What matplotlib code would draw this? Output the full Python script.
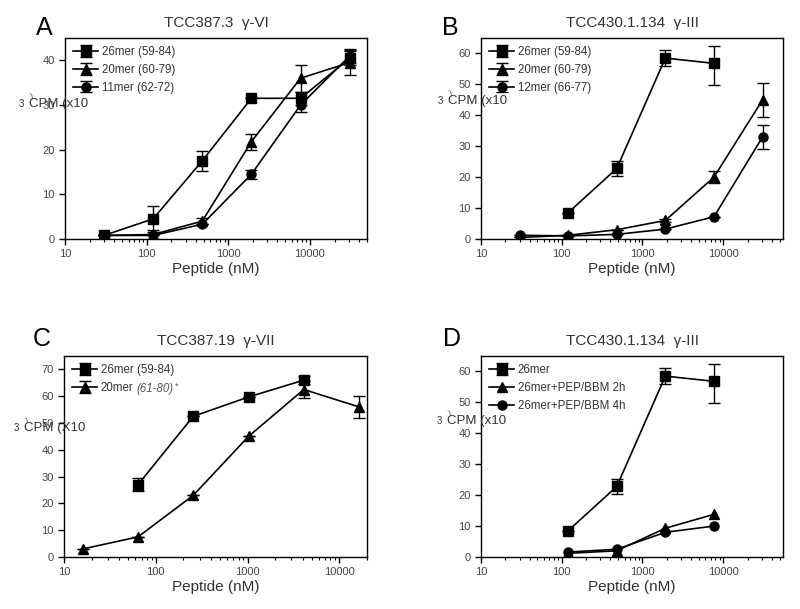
import numpy as np
import matplotlib.pyplot as plt

plt.rcParams['font.family'] = ['Liberation Sans', 'DejaVu Sans']

# panel A
xA = [30, 120, 480, 1920, 7680, 30720]
a26 = [0.8, 4.5, 17.5, 31.5, 31.5, 40.5]
a26_err = [0, 3.0, 2.2, 0, 1.5, 1.5]
a20 = [0.8, 1.0, 4.0, 21.8, 36.0, 39.5]
a20_err = [0, 1.0, 0.6, 1.8, 3.0, 2.8]
a11 = [0.8, 0.8, 3.3, 14.5, 30.0, 41.0]
a11_err = [0, 0, 0, 1.0, 1.5, 1.5]

# panel B
xB26 = [120, 480, 1920, 7680]
b26 = [8.5, 22.8, 58.5, 56.8]
b26_lo = [0, 2.3, 2.5, 7.0]
b26_hi = [0, 2.5, 2.5, 5.5]
xB = [30, 120, 480, 1920, 7680, 30720]
b20 = [0.5, 1.2, 3.0, 6.0, 20.0, 45.0]
b20_err = [0, 0, 0, 0.5, 2.0, 5.5]
b12 = [1.2, 1.0, 1.5, 3.2, 7.2, 33.0]
b12_err = [0, 0, 0, 0, 0, 4.0]

# panel C
xC26 = [64, 256, 1024, 4096]
c26 = [27.0, 52.5, 59.7, 66.0]
c26_err = [2.5, 0, 0, 1.5]
xC20 = [16, 64, 256, 1024, 4096, 16384]
c20 = [3.0, 7.5, 23.0, 45.0, 62.5, 56.0]
c20_err = [0, 0, 0, 0, 3.0, 4.0]

# panel D
xD = [120, 480, 1920, 7680]
d26 = [8.5, 22.8, 58.5, 56.8]
d26_lo = [0, 2.3, 2.5, 7.0]
d26_hi = [0, 2.5, 2.5, 5.5]
d2h = [1.2, 2.0, 9.3, 13.8]
d4h = [1.6, 2.5, 8.0, 10.0]

W, H = 800, 609
fig = plt.figure(figsize=(8, 6.09), dpi=100)


def make_ax(left, top, right, bottom):
    return fig.add_axes([left / W, 1 - bottom / H, (right - left) / W, (bottom - top) / H])


def style(ax, xmax, ymax, ystep):
    ax.set_xscale('log')
    ax.set_xlim(10, xmax)
    ax.set_ylim(0, ymax)
    ax.set_yticks(np.arange(0, ymax, ystep))
    ax.set_xticks([10, 100, 1000, 10000])
    ax.set_xticklabels(['10', '100', '1000', '10000'])
    ax.tick_params(direction='out', length=4, width=1, labelsize=8, labelcolor='#444444')
    ax.tick_params(which='minor', direction='out', length=2.5, width=0.8)
    for s in ax.spines.values():
        s.set_linewidth(1.0)
    ax.set_xlabel('Peptide (nM)', fontsize=11, color='#333333', labelpad=2)


def series(ax, x, y, m, label, err=None):
    ax.errorbar(x, y, yerr=err, color='black', marker=m, markersize=6.5, lw=1.2,
                capsize=4, elinewidth=1, capthick=1, label=label)


def ylab(x, y, txt):
    fig.text(x / W, 1 - y / H, '3', fontsize=7, color='#333333', va='center', zorder=10)
    fig.text((x + 10) / W, 1 - y / H, txt, fontsize=9.5, color='#333333', va='center', zorder=10)
    fig.text((x + 11) / W, 1 - (y - 8) / H, ')', fontsize=6, color='#555555', va='center',
             rotation=20, zorder=10)


def leg(ax):
    ax.legend(loc='upper left', frameon=False, fontsize=8.3, handlelength=2.2, handletextpad=0.3,
              labelspacing=0.5, borderaxespad=0.3, labelcolor='#333333')


# A
ax = make_ax(65, 38, 367, 239)
series(ax, xA, a26, 's', '26mer (59-84)', a26_err)
series(ax, xA, a20, '^', '20mer (60-79)', a20_err)
series(ax, xA, a11, 'o', '11mer (62-72)', a11_err)
style(ax, 50000, 45, 10)
leg(ax)
ax.set_title('TCC387.3  γ-VI', fontsize=11, color='#333333', pad=8)
fig.text(36 / W, 1 - 28 / H, 'A', fontsize=18, va='center')
ylab(19, 104, 'CPM (x10')

# B
ax = make_ax(481, 38, 783, 239)
series(ax, xB26, b26, 's', '26mer (59-84)', [b26_lo, b26_hi])
series(ax, xB, b20, '^', '20mer (60-79)', b20_err)
series(ax, xB, b12, 'o', '12mer (66-77)', b12_err)
style(ax, 55000, 65, 10)
leg(ax)
ax.set_title('TCC430.1.134  γ-III', fontsize=11, color='#333333', pad=8)
fig.text(442 / W, 1 - 28 / H, 'B', fontsize=18, va='center')
ylab(438, 101, 'CPM (x10')

# C
ax = make_ax(64, 356, 367, 557)
series(ax, xC26, c26, 's', '26mer (59-84)', c26_err)
series(ax, xC20, c20, '^', '20mer', c20_err)
style(ax, 20000, 75, 10)
leg(ax)
ax.text(0.24, 0.835, '(61-80)', transform=ax.transAxes, fontsize=8.3, style='italic',
        color='#555555', va='center')
ax.text(0.365, 0.85, '*', transform=ax.transAxes, fontsize=6.5, color='#555555', va='center')
ax.set_title('TCC387.19  γ-VII', fontsize=11, color='#333333', pad=8)
fig.text(33 / W, 1 - 339 / H, 'C', fontsize=18, va='center')
ylab(14, 428, 'CPM (X10')

# D
ax = make_ax(481, 356, 783, 557)
series(ax, xD, d26, 's', '26mer', [d26_lo, d26_hi])
series(ax, xD, d2h, '^', '26mer+PEP/BBM 2h')
series(ax, xD, d4h, 'o', '26mer+PEP/BBM 4h')
style(ax, 55000, 65, 10)
leg(ax)
ax.set_title('TCC430.1.134  γ-III', fontsize=11, color='#333333', pad=8)
fig.text(443 / W, 1 - 339 / H, 'D', fontsize=18, va='center')
ylab(437, 421, 'CPM (x10')

fig.savefig('out.png', dpi=100)
